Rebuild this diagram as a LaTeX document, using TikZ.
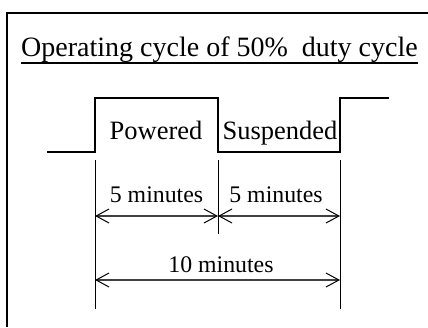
\documentclass[tikz,border=0pt]{standalone}
\usepackage{fontspec}
\setmainfont{Liberation Serif}
\usetikzlibrary{arrows.meta,calc}

\begin{document}
\begin{tikzpicture}[x=1pt,y=-1pt,
	titlenode/.style={inner sep=0, anchor=base west, font=\fontsize{28}{32}\selectfont},
	labelnode/.style={inner sep=0, anchor=base, font=\fontsize{26.5}{30}\selectfont},
	dimnode/.style={inner sep=0, anchor=base, font=\fontsize{23.8}{28}\selectfont},
	signal/.style={line width=2pt, line join=miter},
	extline/.style={line width=1pt},
	dimline/.style={draw=black!75, line width=1.3pt,
		{Straight Barb[length=13pt,width=14pt,line width=1pt,color=black]}-{Straight Barb[length=13pt,width=14pt,line width=1pt,color=black]}},
	]
	\useasboundingbox (0,0) rectangle (428,327);
	%Frame
	\draw[line width=2pt] (7,327) -- (7,13) -- (428,13);
	
	%Nodes
	\node[titlenode]	(title)	at	(21,56)		{Operating cycle of 50\%~ duty cycle};
	\node[labelnode]	(pow)	at	(156,139)	{Powered};
	\node[labelnode]	(susp)	at	(280,139)	{Suspended};
	\node[dimnode]		(five1)	at	(156.5,202)	{5 minutes};
	\node[dimnode]		(five2)	at	(276,202)	{5 minutes};
	\node[dimnode]		(ten)	at	(221,272)	{10 minutes};
	
	%Signal corners
	\coordinate (s0) at (47,152);
	\coordinate (s1) at (95,152);
	\coordinate (s2) at (95,98);
	\coordinate (s3) at (218,98);
	\coordinate (s4) at (218,152);
	\coordinate (s5) at (340,152);
	\coordinate (s6) at (340,98);
	\coordinate (s7) at (389,98);
	
	%Extension lines
	\coordinate (e1t) at (95,160);
	\coordinate (e1b) at (95,309);
	\coordinate (e2t) at (218,160);
	\coordinate (e2b) at (218,234);
	\coordinate (e3t) at (340,160);
	\coordinate (e3b) at (340,309);
	
	%Dimension ends
	\coordinate (d1a) at (95,216);
	\coordinate (d1b) at (218,216);
	\coordinate (d1c) at (340,216);
	\coordinate (d2a) at (95,280);
	\coordinate (d2b) at (340,280);
	
	\draw[line width=1.8pt] ($(title.base west)+(0,6.7)$) -- ($(title.base east)+(0,6.7)$);
	\draw[signal] (s0) -- (s1) -- (s2) -- (s3) -- (s4) -- (s5) -- (s6) -- (s7);
	
	\draw[extline] (e1t) -- (e1b);
	\draw[extline] (e2t) -- (e2b);
	\draw[extline] (e3t) -- (e3b);
	
	\draw[dimline] (d1a) -- (d1b);
	\draw[dimline] (d1b) -- (d1c);
	\draw[dimline] (d2a) -- (d2b);
\end{tikzpicture}
\end{document}
